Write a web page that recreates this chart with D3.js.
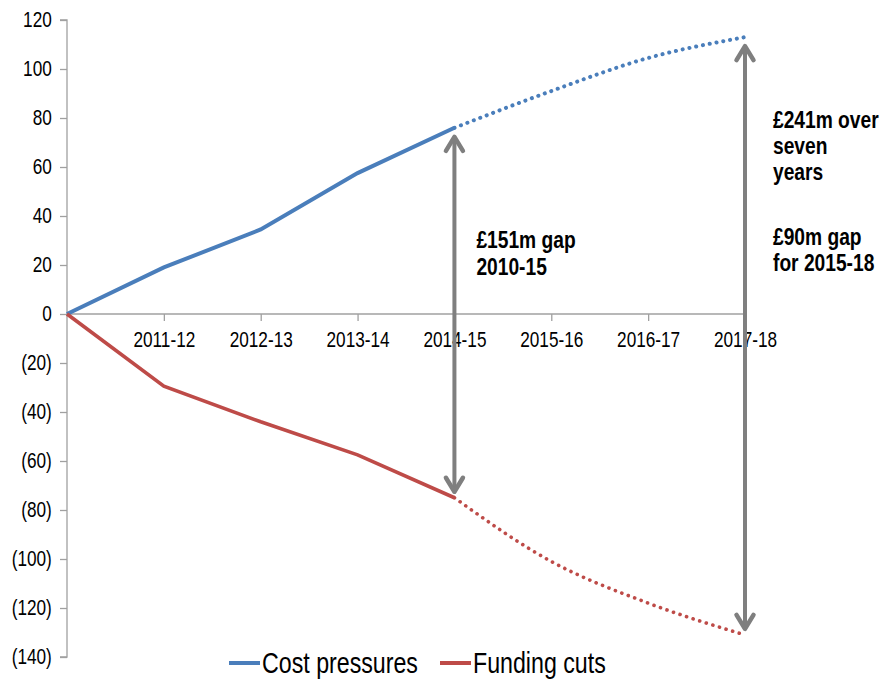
<!DOCTYPE html>
<meta charset="utf-8">
<style>
body { margin: 0; background: #fff; }
svg { font-family: "Liberation Sans", Arial, sans-serif; }
.axis path, .axis line { stroke: #a0a0a0; stroke-width: 1.3; }
.axis text { font-size: 21.5px; fill: #000; }
.note { font-size: 24px; font-weight: bold; fill: #000; }
.legend text { font-size: 29px; fill: #000; }
</style>
<body>
<script src="https://d3js.org/d3.v7.min.js"></script>
<script>

// data (£m)
var categories = ["2010-11", "2011-12", "2012-13", "2013-14", "2014-15", "2015-16", "2016-17", "2017-18"];
var costPressures = [0, 19, 34.5, 57.5, 76, 91, 104.5, 113];
var fundingCuts = [0, -29.5, -44, -57.5, -75, -101, -118, -131];
var yTicks = [120, 100, 80, 60, 40, 20, 0, -20, -40, -60, -80, -100, -120, -140];
var lastActual = 4; // 2014-15, later years are projections

var margin = {top: 20, right: 135, bottom: 22, left: 67},
    width = 880 - margin.left - margin.right,
    height = 679 - margin.top - margin.bottom;

// the source font is a condensed one, so squeeze the text a bit
var squeeze = "scale(0.8,1)";

var x = d3.scaleLinear().domain([0, categories.length - 1]).range([0, width]);
var y = d3.scaleLinear().domain([-140, 120]).range([height, 0]);

var svg = d3.select("body").append("svg")
    .attr("width", 880)
    .attr("height", 679)
  .append("g")
    .attr("transform", "translate(" + margin.left + "," + margin.top + ")");

// y axis
svg.append("g")
    .attr("class", "axis")
    .call(d3.axisLeft(y).tickValues(yTicks).tickSize(7).tickPadding(12)
      .tickFormat(function(d) { return d < 0 ? "(" + (-d) + ")" : d; }))
    .call(function(g) { g.select(".domain").attr("d", "M-7," + y(120) + "H0V" + y(-140) + "H-7"); })
    .selectAll("text").attr("transform", squeeze);

// x axis through zero
var xAx = svg.append("g")
    .attr("class", "axis")
    .attr("transform", "translate(0," + y(0) + ")")
    .call(d3.axisBottom(x).tickValues(d3.range(1, categories.length)).tickSize(7).tickPadding(11)
      .tickFormat(function(i) { return categories[i]; }));
xAx.select(".domain").attr("d", "M0,0H" + x(categories.length - 1));
xAx.selectAll("text").attr("transform", squeeze);

// lines
var series = [
  {name: "Cost pressures", values: costPressures, color: "#4a7ebb", w: 4},
  {name: "Funding cuts", values: fundingCuts, color: "#be4b48", w: 3.6}
];

var line = d3.line()
    .x(function(d) { return x(d.i); })
    .y(function(d) { return y(d.v); });
var lineProj = d3.line()
    .curve(d3.curveMonotoneX)
    .x(function(d) { return x(d.i); })
    .y(function(d) { return y(d.v); });

series.forEach(function(s) {
  var pts = s.values.map(function(v, i) { return {i: i, v: v}; });
  svg.append("path")
      .datum(pts.slice(0, lastActual + 1))
      .attr("fill", "none")
      .attr("stroke", s.color)
      .attr("stroke-width", s.w)
      .attr("d", line);
  svg.append("path")
      .datum(pts.slice(lastActual))
      .attr("fill", "none")
      .attr("stroke", s.color)
      .attr("stroke-width", s.w)
      .attr("stroke-linecap", "round")
      .attr("stroke-dasharray", "0.1 6.8")
      .attr("d", lineProj);
});

// gap arrows
var defs = svg.append("defs");
defs.append("marker")
    .attr("id", "head")
    .attr("viewBox", "-20 -15 25 30")
    .attr("refX", 0).attr("refY", 0)
    .attr("markerWidth", 25).attr("markerHeight", 30)
    .attr("markerUnits", "userSpaceOnUse")
    .attr("orient", "auto-start-reverse")
  .append("path")
    .attr("d", "M-14,-8.5L0,0L-14,8.5")
    .attr("fill", "none")
    .attr("stroke", "#7f7f7f")
    .attr("stroke-width", 4.5)
    .attr("stroke-linecap", "round")
    .attr("stroke-linejoin", "round");

function gapArrow(i, padTop, padBottom) {
  svg.append("line")
      .attr("x1", x(i)).attr("x2", x(i))
      .attr("y1", y(costPressures[i]) + padTop)
      .attr("y2", y(fundingCuts[i]) - padBottom)
      .attr("stroke", "#7f7f7f")
      .attr("stroke-width", 4)
      .attr("marker-start", "url(#head)")
      .attr("marker-end", "url(#head)");
}
gapArrow(4, 9, 6);
gapArrow(7, 9, 6);

// annotations
function note(xp, yp, lines, gap) {
  var t = svg.append("g")
      .attr("transform", "translate(" + xp + "," + yp + ") " + squeeze)
    .append("text").attr("class", "note");
  lines.forEach(function(l, k) {
    t.append("tspan").attr("x", 0).attr("dy", k === 0 ? 0 : gap).text(l);
  });
}
note(x(4) + 22, 228, ["£151m gap", "2010-15"], 27);
note(x(7) + 28, 108, ["£241m over", "seven", "years"], 26);
note(x(7) + 28, 225, ["£90m gap", "for 2015-18"], 26);

// legend
var legend = svg.append("g").attr("class", "legend")
    .attr("transform", "translate(0," + (height + 6) + ")");
var lx = [162, 373];
series.forEach(function(s, k) {
  legend.append("line")
      .attr("x1", lx[k]).attr("x2", lx[k] + 31)
      .attr("stroke", s.color).attr("stroke-width", 4);
  legend.append("g")
      .attr("transform", "translate(" + (lx[k] + 33) + ",10) " + squeeze)
    .append("text")
      .text(s.name);
});

</script>
</body>
